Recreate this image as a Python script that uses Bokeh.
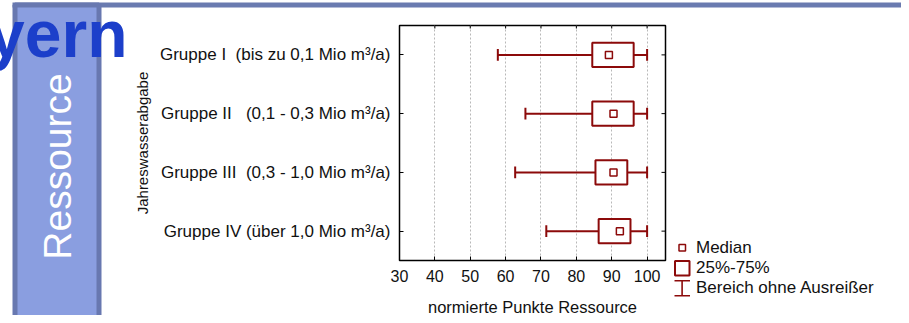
import math
from bokeh.plotting import figure
from bokeh.models import Range1d, FixedTicker, ColumnDataSource
from bokeh.core.properties import value
from bokeh.embed import file_html
from bokeh.resources import INLINE

# ---------------- data ----------------
NB = "\u00a0"
groups = ["Gruppe I" + NB * 2 + "(bis zu 0,1 Mio m³/a)",
          "Gruppe II" + NB * 3 + "(0,1 - 0,3 Mio m³/a)",
          "Gruppe III" + NB * 2 + "(0,3 - 1,0 Mio m³/a)",
          "Gruppe IV (über 1,0 Mio m³/a)"]
low = [57.8, 65.6, 62.7, 71.5]
q1 = [84.5, 84.5, 85.4, 86.3]
median = [89.2, 90.5, 90.5, 92.3]
q3 = [96.2, 96.2, 94.4, 95.3]
high = [100, 100, 100, 100]
x_ticks = [30, 40, 50, 60, 70, 80, 90, 100]
x_title = "normierte Punkte Ressource"
y_title = "Jahreswasserabgabe"
legend_labels = ["Median", "25%-75%", "Bereich ohne Ausreißer"]

pos = list(range(1, len(groups) + 1))
src = ColumnDataSource(dict(y=pos, low=low, q1=q1, med=median, q3=q3, high=high,
                            ylo=[v - 0.1 for v in pos], yhi=[v + 0.1 for v in pos]))

RED = "#8c0a0a"
FONT = "Liberation Sans"
W, H = 901, 315
FL, FR, FT, FB = 399, 665, 25, 260   # frame edges in canvas px
X0, X1 = 30, 105.2

p = figure(width=W, height=H, output_backend="svg", toolbar_location=None,
           x_range=Range1d(X0, X1), y_range=Range1d(4.5, 0.5),
           min_border_left=FL, min_border_right=W - FR,
           min_border_top=FT, min_border_bottom=H - FB,
           background_fill_color="white", border_fill_color="white")
p.outline_line_color = "black"
p.outline_line_width = 1.5
# pixel coordinate system for slide decoration & legend (outside the frame)
p.extra_x_ranges = {"px": Range1d(FL, FR)}
p.extra_y_ranges = {"px": Range1d(FB, FT)}

# grid
p.ygrid.visible = False
p.xgrid.ticker = FixedTicker(ticks=x_ticks[1:])
p.xgrid.grid_line_color = "#b8b8b8"
p.xgrid.grid_line_dash = "2 2"
p.xgrid.grid_line_width = 1

# axes
xa = p.xaxis[0]
xa.ticker = FixedTicker(ticks=x_ticks)
xa.minor_tick_line_color = None
xa.major_tick_in = 4
xa.major_tick_out = 0
xa.major_label_standoff = 9
xa.major_label_text_font = FONT
xa.major_label_text_font_size = "16px"
xa.major_label_text_color = "#111111"
xa.axis_line_color = "black"

ya = p.yaxis[0]
ya.ticker = FixedTicker(ticks=pos)
ya.major_label_overrides = {i: g for i, g in zip(pos, groups)}
ya.minor_tick_line_color = None
ya.major_tick_in = 4
ya.major_tick_out = 0
ya.major_label_standoff = 9
ya.major_label_text_font = FONT
ya.major_label_text_font_size = "17px"
ya.major_label_text_color = "#111111"
ya.axis_label = y_title
ya.axis_label_text_font = FONT
ya.axis_label_text_font_size = "15px"
ya.axis_label_text_font_style = "normal"
ya.axis_label_text_color = "#111111"
ya.axis_label_standoff = 6
ya.axis_line_color = "black"

# inside ticks on the right and top edges of the frame
tk = (X1 - X0) / (FR - FL) * 4.0
p.segment(x0=[X1 - tk] * len(pos), x1=[X1] * len(pos), y0=pos, y1=pos,
          line_color="black", line_width=1)
tky = 4.0 / (FB - FT) * 3.0
p.segment(x0=x_ticks[1:], x1=x_ticks[1:], y0=[0.5] * 7, y1=[0.5 + tky] * 7,
          line_color="black", line_width=1)

# box plot marks
p.segment(x0="low", y0="y", x1="q1", y1="y", source=src, line_color=RED, line_width=2)
p.segment(x0="q3", y0="y", x1="high", y1="y", source=src, line_color=RED, line_width=2)
p.segment(x0="low", y0="ylo", x1="low", y1="yhi", source=src, line_color=RED, line_width=2)
p.segment(x0="high", y0="ylo", x1="high", y1="yhi", source=src, line_color=RED, line_width=2)
p.hbar(y="y", left="q1", right="q3", height=0.41, source=src, fill_color="white",
       line_color=RED, line_width=2)
p.scatter(x="med", y="y", source=src, marker="square", size=7, fill_color="white",
          line_color=RED, line_width=1.5)

# ------------- texts & decoration outside the frame (canvas pixels) -------------
PX = dict(x_range_name="px", y_range_name="px", level="overlay")

# x axis title, centred under the frame
p.text(x=[(FL + FR) / 2], y=[306], text=[x_title], text_align="center",
       text_baseline="middle", text_font=value(FONT), text_font_size=value("16.5px"),
       text_color="#111111", **PX)

def box(l, r, t, b, fill, line=None, lw=0):
    p.quad(left=[l], right=[r], top=[t], bottom=[b], fill_color=fill,
           line_color=line, line_width=lw, **PX)

box(12, 920, 2, 7, "#6a7bb0")
box(14.5, 98.5, 4.5, 340, "#8a9ee0", "#6878b0", 5)

p.text(x=[57], y=[166], text=["Ressource"], angle=math.pi / 2,
       text_align="center", text_baseline="middle", text_font=value(FONT),
       text_font_size=value("39px"), text_color="white", **PX)
p.text(x=[127], y=[33], text=["yern"], text_align="right",
       text_baseline="alphabetic", text_font=value(FONT), text_font_size=value("66px"),
       text_font_style="bold", text_color="#1c3fca", **PX)

# ------------- legend -------------
box(678.5, 685, 244, 250.5, "white", RED, 1.5)
box(674.5, 689, 260.5, 275, "white", RED, 2)
box(680.8, 682.4, 280, 295, RED)
box(674, 689.5, 279.5, 281, RED)
box(674, 689.5, 294.5, 296, RED)
p.text(x=[695.5] * 3, y=[246.5, 267, 287], text=legend_labels,
       text_align="left", text_baseline="middle", text_font=value(FONT),
       text_font_size=value("17px"), text_color="#111111", **PX)

open("out.html", "w").write(file_html(p, INLINE))
